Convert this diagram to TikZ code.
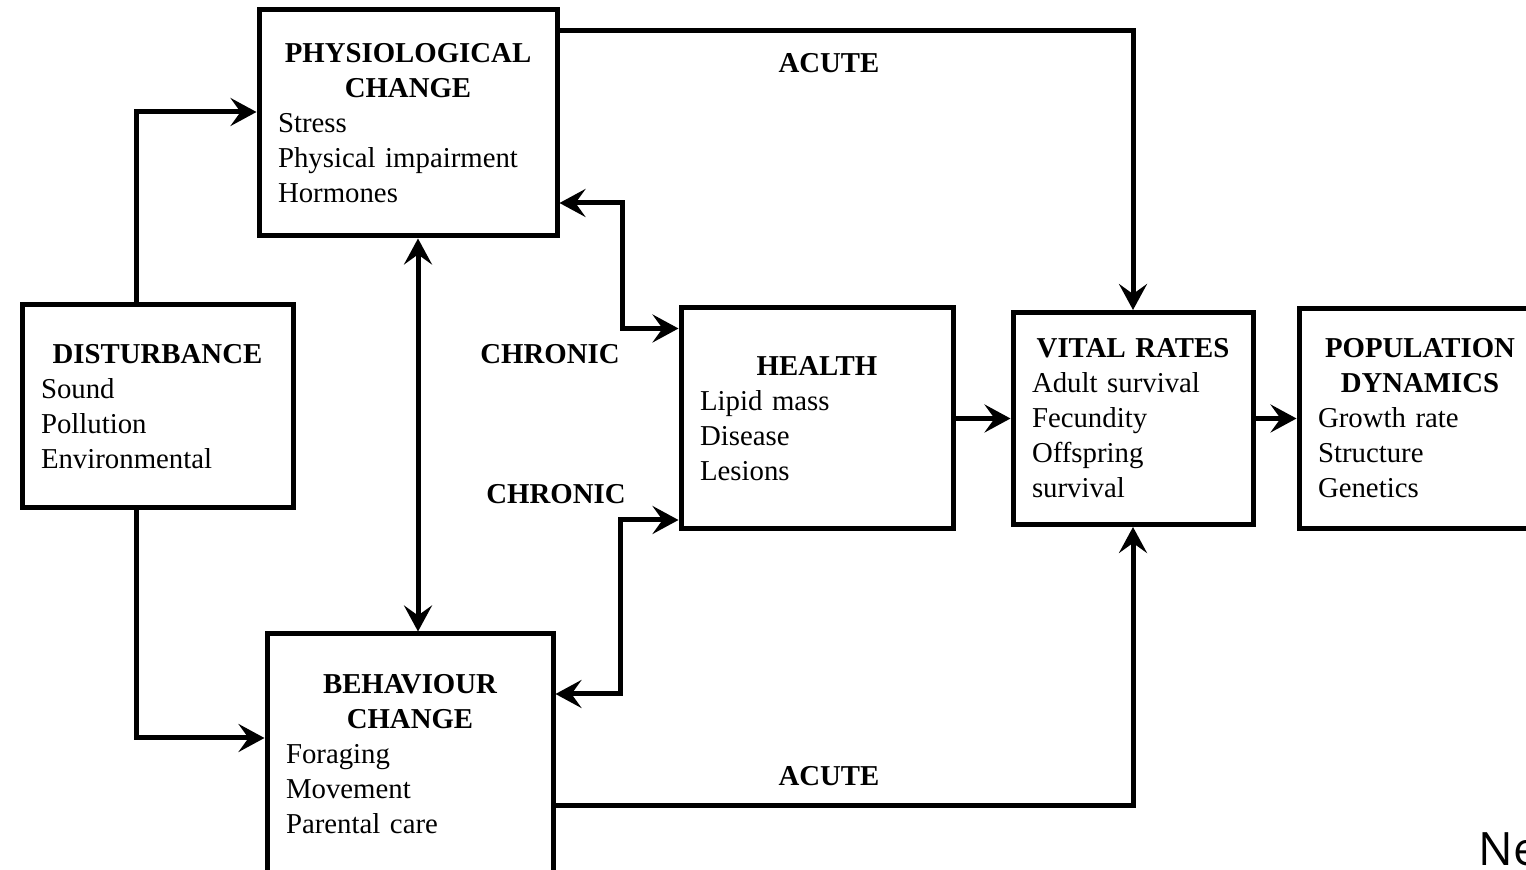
\documentclass[tikz,border=0pt]{standalone}
\usepackage{fontspec}
\setmainfont{Liberation Serif}
\newfontfamily\slidefont{Open Sans}
\usetikzlibrary{positioning,arrows.meta}

\tikzset{
  box/.style={draw, line width=2.5pt, inner xsep=9.5pt, inner ysep=4pt, align=left,
    font=\fontsize{14.4pt}{17.5pt}\selectfont},
  lbl/.style={font=\fontsize{14.4pt}{17.5pt}\selectfont\bfseries},
  arr/.style={line width=2.5pt, -{Stealth[length=13pt, width=14pt, inset=5pt]}},
  dbl/.style={line width=2.5pt, {Stealth[length=13pt, width=14pt, inset=5pt]}-{Stealth[length=13pt, width=14pt, inset=5pt]}}
}

\begin{document}
\begin{tikzpicture}[x=0.5pt, y=-0.5pt]
\useasboundingbox (0,0) rectangle (1526,870);

% boxes
\node[box, text width=130pt, minimum height=113pt] (phys) at (408,123)
  {{\centering\bfseries PHYSIOLOGICAL\\CHANGE\par}Stress\\Physical impairment\\Hormones};
\node[box, text width=116.5pt, minimum height=101.5pt] (dist) at (157.5,406.5)
  {{\centering\bfseries DISTURBANCE\par}Sound\\Pollution\\Environmental};
\node[box, text width=124pt, minimum height=120pt] (beh) at (410,754)
  {{\centering\bfseries BEHAVIOUR\\CHANGE\par}Foraging\\Movement\\Parental care};
\node[box, text width=117pt, minimum height=110.5pt] (health) at (817,418.5)
  {{\centering\bfseries HEALTH\par}Lipid mass\\Disease\\Lesions};
\node[box, text width=101pt, minimum height=106pt, right=27.5pt of health] (vital)
  {{\centering\bfseries VITAL RATES\par}Adult survival\\Fecundity\\Offspring\\survival};
\node[box, text width=102pt, minimum height=110pt, right=20.5pt of vital] (pop)
  {{\centering\bfseries POPULATION\\DYNAMICS\par}Growth rate\\Structure\\Genetics};

% labels
\node[lbl] (acutetop) at (829,63) {ACUTE};
\node[lbl] (acutebot) at (829,776) {ACUTE};
\node[lbl] (chronictop) at (550,354) {CHRONIC};
\node[lbl] (chronicbot) at (556,494) {CHRONIC};
\node[anchor=base west, inner sep=0pt, font=\slidefont\fontsize{23pt}{27pt}\selectfont] (ne) at (1478,865) {Ne};

% connectors
\coordinate (pb) at ([xshift=5pt]phys.south);
\draw[arr] ([xshift=-10.75pt]dist.north) |- ([yshift=5.5pt]phys.west);
\draw[arr] ([xshift=-10.75pt]dist.south) |- ([yshift=8pt]beh.west);
\draw[dbl] (pb) -- (pb |- beh.north);
\draw[dbl] ([yshift=-40pt]phys.east) -- ++(31.5pt,0) |- ([yshift=45pt]health.west);
\draw[dbl] ([yshift=30pt]beh.east) -- ++(32.5pt,0) |- ([yshift=-50.75pt]health.west);
\draw[arr] ([yshift=46pt]phys.east) -| (vital.north);
\draw[arr] ([yshift=-26pt]beh.east) -| (vital.south);
\draw[arr] (health.east) -- (health.east -| vital.west);
\draw[arr] (vital.east) -- (vital.east -| pop.west);
\end{tikzpicture}
\end{document}
